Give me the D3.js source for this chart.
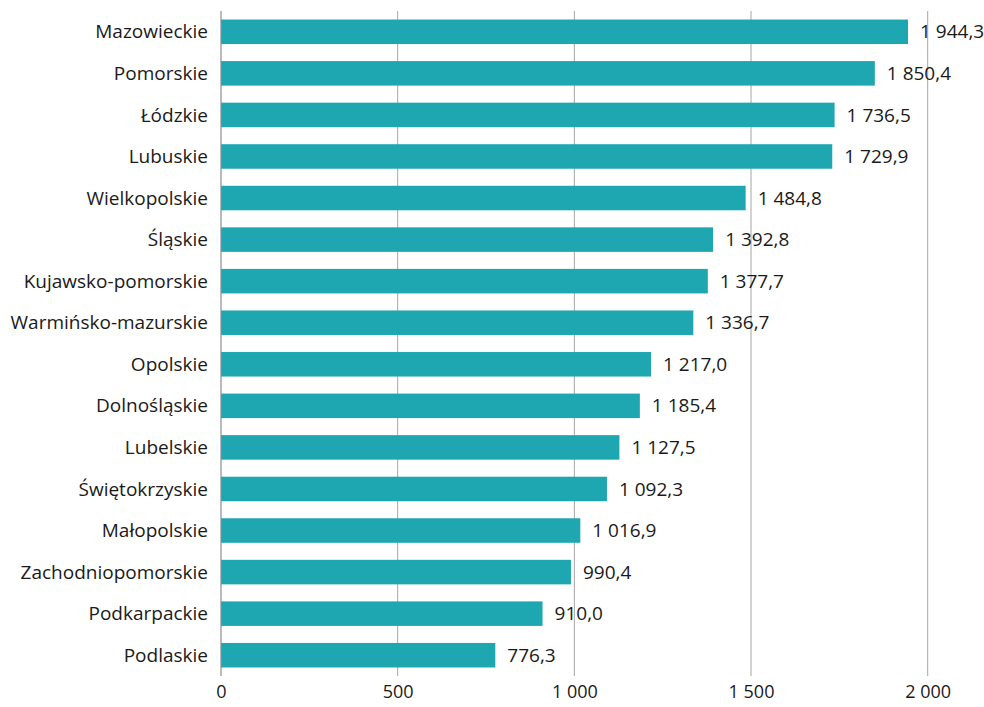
<!DOCTYPE html>
<html><head><meta charset="utf-8">
<script src="https://cdn.jsdelivr.net/npm/d3@7"></script>
<style>body{margin:0;background:#fff}svg{display:block}text{font-family:"Open Sans",sans-serif;fill:#1a1a1a}</style>
</head><body><svg id="c" width="984" height="707"></svg>
<script>
const categories = ["Mazowieckie","Pomorskie","Łódzkie","Lubuskie","Wielkopolskie","Śląskie","Kujawsko-pomorskie","Warmińsko-mazurskie","Opolskie","Dolnośląskie","Lubelskie","Świętokrzyskie","Małopolskie","Zachodniopomorskie","Podkarpackie","Podlaskie"];
const values = [1944.3,1850.4,1736.5,1729.9,1484.8,1392.8,1377.7,1336.7,1217.0,1185.4,1127.5,1092.3,1016.9,990.4,910.0,776.3];
const tickValues = [0,500,1000,1500,2000];

const svg = d3.select("#c");
const x = d3.scaleLinear().domain([0,2000]).range([221,927.7]);
const y = d3.scaleBand().domain(categories).range([11,676]).paddingInner(0.41).paddingOuter(0.205);

const fmtInt = v => d3.format(",")(v).replace(/,/g," ");
const fmtVal = v => d3.format(",.1f")(v).replace(/,/g," ").replace(".",",");

// gridlines
svg.append("g").selectAll("line").data(tickValues.slice(1)).join("line")
  .attr("x1",d=>x(d)).attr("x2",d=>x(d)).attr("y1",11).attr("y2",676)
  .attr("stroke","#a6a6a6").attr("stroke-width",1);

// bars
svg.append("g").selectAll("rect").data(categories).join("rect")
  .attr("x",x(0)).attr("y",d=>y(d)).attr("height",y.bandwidth())
  .attr("width",(d,i)=>x(values[i])-x(0)).attr("fill","#1fa7b1");

// zero axis line
svg.append("line").attr("x1",x(0)).attr("x2",x(0)).attr("y1",11).attr("y2",676)
  .attr("stroke","#8c8c8c").attr("stroke-width",1.2);

// category labels
svg.append("g").selectAll("text").data(categories).join("text")
  .attr("x",208).attr("y",d=>y(d)+y.bandwidth()/2).attr("dy","0.35em")
  .attr("text-anchor","end").attr("font-size",19).text(d=>d);

// value labels
svg.append("g").selectAll("text").data(categories).join("text")
  .attr("x",(d,i)=>x(values[i])+12).attr("y",d=>y(d)+y.bandwidth()/2).attr("dy","0.35em")
  .attr("font-size",19).text((d,i)=>fmtVal(values[i]));

// x axis ticks
const axis = d3.axisBottom(x).tickValues(tickValues).tickFormat(fmtInt).tickSize(0).tickPadding(0);
const ga = svg.append("g").attr("transform","translate(0,685)").call(axis);
ga.select(".domain").remove();
ga.selectAll("text").attr("font-size",18).attr("dy","0.71em").style("font-family","'Open Sans',sans-serif").attr("fill","#1a1a1a");
</script></body></html>
